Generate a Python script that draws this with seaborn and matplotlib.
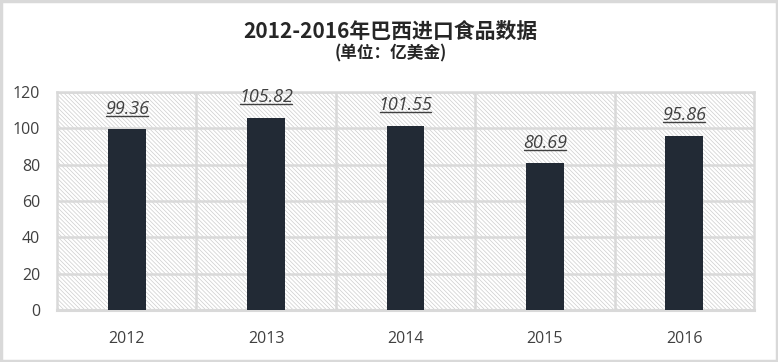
import numpy as np
import pandas as pd
import matplotlib
matplotlib.use("Agg")
import matplotlib.pyplot as plt
import seaborn as sns
from matplotlib.patches import Rectangle
from matplotlib.lines import Line2D

years = ["2012", "2013", "2014", "2015", "2016"]
values = [99.36, 105.82, 101.55, 80.69, 95.86]

bar_color = "#222a35"
grid_color = "#d9d9d9"
text_color = "#404040"

sns.set_style("white")
plt.rcParams["font.family"] = ["Noto Sans CJK SC", "DejaVu Sans"]
plt.rcParams["hatch.linewidth"] = 0.5

df = pd.DataFrame({"year": years, "value": values})

fig = plt.figure(figsize=(7.78, 3.62), dpi=100)
ax = fig.add_axes([57 / 778, 52 / 362, 697 / 778, 218 / 362])

# hatched plot background
bg = Rectangle((0, 0), 1, 1, transform=ax.transAxes, facecolor="white",
               edgecolor="#cdcdcd", hatch="\\" * 8, linewidth=0, zorder=0)
ax.add_patch(bg)

sns.barplot(data=df, x="year", y="value", color=bar_color, width=0.27,
            saturation=1, ax=ax, zorder=3, linewidth=0)

ax.set_ylim(0, 120)
ax.set_xlim(-0.5, len(years) - 0.5)
ax.set_yticks(np.arange(0, 121, 20))
for yv in np.arange(20, 121, 20):
    ax.axhline(yv, color=grid_color, linewidth=1.8, zorder=1)
for xv in np.arange(0.5, len(years) - 0.5, 1):
    ax.axvline(xv, color=grid_color, linewidth=1.8, zorder=1)

for s in ax.spines.values():
    s.set_color(grid_color)
    s.set_linewidth(1.8)
ax.spines["bottom"].set_linewidth(2.2)

ax.set_xlabel("")
ax.set_ylabel("")
ax.tick_params(axis="both", length=0, labelsize=11.5, labelcolor=text_color)
ax.tick_params(axis="x", pad=15)
ax.tick_params(axis="y", pad=12)
for lab in ax.get_xticklabels() + ax.get_yticklabels():
    lab.set_family(["Open Sans", "DejaVu Sans"])

labels = []
for i, v in enumerate(values):
    t = ax.annotate(f"{v:.2f}", (i, v), xytext=(0, 15), textcoords="offset points",
                    ha="center", va="center", fontsize=13, style="italic",
                    color=text_color, family=["Open Sans", "DejaVu Sans"], zorder=5)
    labels.append(t)

fig.text(0.502, 0.912, "2012-2016年巴西进口食品数据", ha="center", va="center",
         fontsize=15, fontweight="bold", color="#262626")
fig.text(0.502, 0.853, "(单位：亿美金)", ha="center", va="center",
         fontsize=12, fontweight="bold", color="#262626")

# outer border
fig.patches.append(Rectangle((0.0015, 0.003), 0.997, 0.994, transform=fig.transFigure,
                             fill=False, edgecolor=grid_color, linewidth=2.5))

# underline the value labels
fig.canvas.draw()
r = fig.canvas.get_renderer()
inv = fig.transFigure.inverted()
for t in labels:
    bb = t.get_window_extent(r)
    (x0, y0), (x1, y1) = inv.transform([(bb.x0 + 1, bb.y0 + 2), (bb.x1 - 1, bb.y0 + 2)])
    fig.add_artist(Line2D([x0, x1], [y0, y1], transform=fig.transFigure,
                          color=text_color, linewidth=1.0))

fig.savefig("out.png", dpi=100)
